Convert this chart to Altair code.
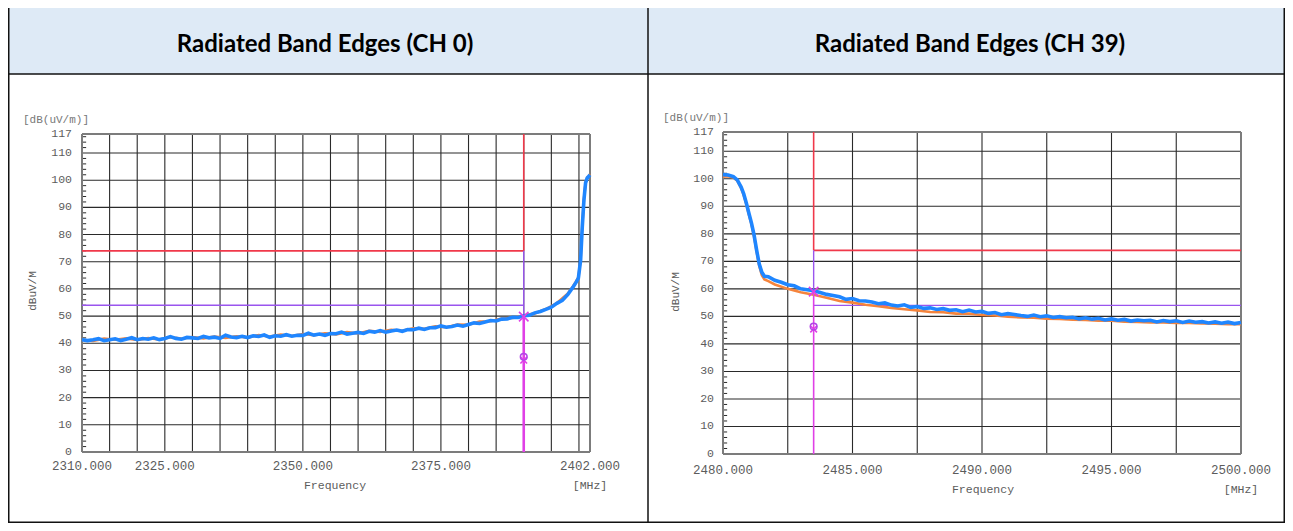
import altair as alt
import pandas as pd

# ---------------- data ----------------
# CH 0 (lower band edge)
ch0_title = "Radiated Band Edges (CH 0)"
ch0_blue_freq = list(range(2310, 2400)) + [2399.5, 2399.9, 2400.3, 2400.6, 2400.9, 2401.2, 2401.5, 2401.8, 2402.0]
ch0_blue = [
    41.3, 41.0, 41.3, 41.7, 40.95, 41.3, 41.65, 41.0, 41.5, 42.05,
    41.3, 41.75, 41.5, 42.0, 41.35, 41.8, 42.45, 41.8, 41.5, 42.15,
    42.0, 41.75, 42.5, 42.0, 42.25, 41.8, 42.95, 42.3, 42.1, 42.55,
    42.1, 42.75, 42.5, 43.05, 42.2, 42.75, 42.6, 43.15, 42.6, 42.95,
    42.9, 43.7, 43.0, 43.4, 42.95, 43.6, 43.5, 44.1, 43.4, 43.7,
    44.0, 43.6, 44.4, 44.1, 44.7, 44.1, 44.55, 44.9, 44.4, 45.05,
    45.0, 45.55, 45.1, 45.7, 45.75, 46.4, 45.9, 46.2, 46.7, 46.3,
    46.9, 47.5, 47.3, 47.8, 48.4, 48.2, 48.9, 48.95, 49.6, 49.5,
    50.1, 50.3, 51.2, 51.7, 52.5, 53.3, 54.7, 55.8, 58.0, 60.9,
    62.5, 64.0, 70.6, 82.8, 92.7, 99.0, 100.8, 101.5, 102.0,
]
ch0_orange_freq = list(range(2310, 2400, 2)) + [2399.0, 2399.5, 2399.9, 2400.3, 2400.6, 2400.9, 2401.2, 2401.5, 2401.8, 2402.0]
ch0_orange = [
    41.2, 40.9, 41.7, 41.3, 41.8, 41.2, 41.9, 41.4, 42.2, 41.7,
    42.3, 41.8, 42.5, 42.0, 42.6, 42.1, 43.0, 42.5, 43.2, 42.7,
    43.4, 43.0, 43.7, 43.3, 44.1, 43.6, 44.6, 44.2, 45.0, 44.6,
    45.5, 45.3, 46.2, 45.9, 46.9, 46.8, 48.0, 48.1, 49.1, 49.3,
    50.2, 51.0, 52.6, 54.8, 58.3,
    61.2, 62.8, 64.3, 71.0, 83.0, 93.0, 99.2, 101.0, 101.6, 102.2,
]
ch0_xdomain = [2310, 2402]
ch0_xgrid = [2315, 2320, 2325, 2330, 2335, 2340, 2345, 2350, 2355, 2360,
             2365, 2370, 2375, 2380, 2385, 2390, 2395, 2400]
ch0_xlabels = [2310, 2325, 2350, 2375, 2402]
ch0_edge = 2390
ch0_marker_pk = 49.8
ch0_marker_circle = 35.0
ch0_marker_cross = 33.8

# CH 39 (upper band edge)
ch39_title = "Radiated Band Edges (CH 39)"
ch39_blue_freq = [2480.0, 2480.2, 2480.4, 2480.55, 2480.7, 2480.8, 2480.9, 2481.0,
                  2481.1, 2481.2, 2481.3, 2481.4, 2481.5, 2481.6] + \
                 [2481.75 + 0.25 * i for i in range(74)]
ch39_blue = [
    101.5, 101.4, 100.8, 99.6, 97.0, 94.5, 91.2, 87.5, 83.9, 79.5, 74.0, 69.0, 66.0, 64.6,
    64.4, 63.1, 62.4, 61.5, 61.1, 60.0, 59.7, 59.3, 58.7, 58.0,
    57.6, 57.1, 56.2, 56.5, 55.7, 55.6, 55.2, 54.6, 54.9, 54.1,
    53.8, 54.2, 53.3, 53.6, 52.9, 53.1, 52.5, 52.8, 52.2, 52.4,
    51.7, 52.3, 51.6, 51.8, 51.1, 51.4, 50.6, 51.0, 50.7, 50.3,
    50.0, 50.5, 49.9, 50.2, 49.6, 49.9, 49.5, 49.7, 49.1, 49.5,
    49.0, 49.3, 48.7, 49.1, 48.6, 48.9, 48.3, 48.7, 48.4, 48.6,
    48.0, 48.5, 48.1, 48.4, 47.8, 48.3, 47.9, 48.1, 47.6, 48.0,
    47.5, 47.9, 47.4, 47.8,
]
ch39_orange_freq = [2480.0, 2480.2, 2480.4, 2480.55, 2480.7, 2480.8, 2480.9, 2481.0,
                    2481.1, 2481.2, 2481.3, 2481.4, 2481.5, 2481.6, 2481.75] + \
                   [2482.0 + 0.5 * i for i in range(37)]
ch39_orange = [
    100.8, 100.9, 100.5, 99.3, 96.6, 94.1, 90.8, 87.0, 83.4, 79.0, 73.5, 68.3, 65.0, 63.4, 62.8,
    61.6, 60.0, 58.8, 57.9, 56.8, 55.6, 55.0, 54.2, 53.7, 53.1,
    52.6, 52.2, 51.6, 51.5, 51.0, 51.0, 50.5, 50.3, 49.9, 49.6,
    49.5, 49.2, 49.1, 48.8, 48.7, 48.4, 48.4, 48.1, 48.0, 47.8,
    47.8, 47.6, 47.6, 47.4, 47.3, 47.2, 47.2,
]
ch39_xdomain = [2480, 2500]
ch39_xgrid = [2482.5, 2485, 2487.5, 2490, 2492.5, 2495, 2497.5]
ch39_xlabels = [2480, 2485, 2490, 2495, 2500]
ch39_edge = 2483.5
ch39_marker_pk = 59.0
ch39_marker_circle = 46.3
ch39_marker_cross = 45.4

# shared
limit_peak = 74
limit_avg = 54
y_top = 117
y_grid = [10, 20, 30, 40, 50, 60, 70, 80, 90, 100, 110]
y_labels = [0, 10, 20, 30, 40, 50, 60, 70, 80, 90, 100, 110, 117]
y_minor = [v for v in range(2, 117, 2) if v % 10 != 0]

# ---------------- styles ----------------
LABEL_FONT = "Liberation Mono"
LABEL_COLOR = "#5c5c5c"
GRID = "#2a2a2a"
BORDER = "#7c7c7c"
RED = "#f0384a"
PURPLE = "#9a55ee"
MAGENTA = "#e040e6"
BLUE = "#1f86ff"
ORANGE = "#f5843c"
W, H = 1277, 515


def panel(bf, bv, of, ov, xdom, xgrid, xlabels, edge, mk_pk, mk_circ, mk_cross,
          xrng, yrng, tick_len, mag_w, xlab_dy, ylab_dx, ytitle_dx, ytitle_dy,
          xtitle_dx, xtitle_dy, unit_dx, unit_dy):
    xs = alt.Scale(domain=xdom, range=xrng, nice=False, zero=False)
    ys = alt.Scale(domain=[0, y_top], range=yrng, nice=False, zero=False)
    x0, x1 = xdom

    def X(f):
        return alt.X(f, scale=xs, axis=None)

    def Y(f):
        return alt.Y(f, scale=ys, axis=None)

    vgrid = alt.Chart(pd.DataFrame({"x": xgrid, "y0": 0, "y1": y_top})).mark_rule(
        color=GRID, strokeWidth=1.1
    ).encode(x=X("x:Q"), y=Y("y0:Q"), y2="y1:Q")
    hgrid = alt.Chart(pd.DataFrame({"y": y_grid, "x0": x0, "x1": x1})).mark_rule(
        color=GRID, strokeWidth=1.1
    ).encode(y=Y("y:Q"), x=X("x0:Q"), x2="x1:Q")
    minor = alt.Chart(pd.DataFrame({"y": y_minor, "x0": x0, "x1": x0 + tick_len})).mark_rule(
        color=GRID, strokeWidth=1
    ).encode(y=Y("y:Q"), x=X("x0:Q"), x2="x1:Q")
    border = alt.Chart(pd.DataFrame({
        "x": [x0, x1, x0, x0], "x2": [x0, x1, x1, x1],
        "y": [0, 0, 0, y_top], "y2": [y_top, y_top, 0, y_top],
    })).mark_rule(color=BORDER, strokeWidth=2).encode(
        x=X("x:Q"), x2="x2:Q", y=Y("y:Q"), y2="y2:Q")

    if edge < (x0 + x1) / 2:
        hx0, hx1 = edge, x1
    else:
        hx0, hx1 = x0, edge
    limits = alt.Chart(pd.DataFrame({
        "x": [hx0, hx0, edge, edge],
        "x2": [hx1, hx1, edge, edge],
        "y": [limit_peak, limit_avg, limit_peak, mk_pk],
        "y2": [limit_peak, limit_avg, y_top, limit_peak],
        "c": [RED, PURPLE, RED, PURPLE],
        "w": [1.6, 1.4, 1.6, 1.4],
    })).mark_rule().encode(
        x=X("x:Q"), x2="x2:Q", y=Y("y:Q"), y2="y2:Q",
        color=alt.Color("c:N", scale=None),
        strokeWidth=alt.StrokeWidth("w:Q", scale=None),
    )
    orange = alt.Chart(pd.DataFrame({"f": of, "v": ov})).mark_line(
        color=ORANGE, strokeWidth=2.6
    ).encode(x=X("f:Q"), y=Y("v:Q"))
    blue = alt.Chart(pd.DataFrame({"f": bf, "v": bv})).mark_line(
        color=BLUE, strokeWidth=3.6
    ).encode(x=X("f:Q"), y=Y("v:Q"))
    mag = alt.Chart(pd.DataFrame({"x": [edge], "y": [0], "y2": [mk_pk]})).mark_rule(
        color=MAGENTA, strokeWidth=mag_w
    ).encode(x=X("x:Q"), y=Y("y:Q"), y2="y2:Q")
    xshape = "M-1,-1L1,1M-1,1L1,-1"
    crosses = alt.Chart(pd.DataFrame({"x": [edge, edge], "y": [mk_pk, mk_cross],
                                      "s": [90, 45]})).mark_point(
        shape=xshape, filled=False, color=MAGENTA, strokeWidth=1.6, opacity=1
    ).encode(x=X("x:Q"), y=Y("y:Q"), size=alt.Size("s:Q", scale=None))
    circle = alt.Chart(pd.DataFrame({"x": [edge], "y": [mk_circ]})).mark_point(
        shape="circle", filled=False, color="#b244e8", strokeWidth=1.5, size=45, opacity=1
    ).encode(x=X("x:Q"), y=Y("y:Q"))

    # axis tick labels and titles
    ylab = alt.Chart(pd.DataFrame({"y": y_labels, "x": x0})).mark_text(
        align="right", baseline="middle", dx=ylab_dx,
        font=LABEL_FONT, fontSize=11.5, color=LABEL_COLOR
    ).encode(x=X("x:Q"), y=Y("y:Q"), text=alt.Text("y:Q", format="d"))
    xlab = alt.Chart(pd.DataFrame({"x": xlabels, "y": 0})).mark_text(
        align="center", baseline="middle", dy=xlab_dy,
        font=LABEL_FONT, fontSize=12.5, color=LABEL_COLOR
    ).encode(x=X("x:Q"), y=Y("y:Q"), text=alt.Text("x:Q", format=".3f"))
    ytitle = alt.Chart(pd.DataFrame({"x": [x0], "y": [0], "t": ["dBuV/M"]})).mark_text(
        align="center", baseline="middle", angle=270, dx=ytitle_dx, dy=ytitle_dy,
        font=LABEL_FONT, fontSize=11, color=LABEL_COLOR
    ).encode(x=X("x:Q"), y=Y("y:Q"), text="t:N")
    xtitle = alt.Chart(pd.DataFrame({"x": [(x0 + x1) / 2], "y": [0], "t": ["Frequency"]})).mark_text(
        align="center", baseline="middle", dx=xtitle_dx, dy=xtitle_dy,
        font=LABEL_FONT, fontSize=11.5, color=LABEL_COLOR
    ).encode(x=X("x:Q"), y=Y("y:Q"), text="t:N")
    unit_y = alt.Chart(pd.DataFrame({"x": [x0], "y": [y_top], "t": ["[dB(uV/m)]"]})).mark_text(
        align="left", baseline="middle", dx=unit_dx, dy=unit_dy,
        font=LABEL_FONT, fontSize=11, color="#777777"
    ).encode(x=X("x:Q"), y=Y("y:Q"), text="t:N")
    unit_x = alt.Chart(pd.DataFrame({"x": [x1], "y": [0], "t": ["[MHz]"]})).mark_text(
        align="center", baseline="middle", dy=xtitle_dy,
        font=LABEL_FONT, fontSize=11.5, color=LABEL_COLOR
    ).encode(x=X("x:Q"), y=Y("y:Q"), text="t:N")

    return alt.layer(vgrid, hgrid, minor, border, limits, orange, blue, mag,
                     crosses, circle, ylab, xlab, ytitle, xtitle, unit_y, unit_x)


left = panel(ch0_blue_freq, ch0_blue, ch0_orange_freq, ch0_orange, ch0_xdomain,
             ch0_xgrid, ch0_xlabels, ch0_edge, ch0_marker_pk, ch0_marker_circle,
             ch0_marker_cross,
             xrng=[74, 582], yrng=[444, 126], tick_len=0.75, mag_w=2.6,
             xlab_dy=14, ylab_dx=-10, ytitle_dx=161, ytitle_dy=-49,
             xtitle_dx=-1, xtitle_dy=34, unit_dx=-59, unit_dy=-14)
right = panel(ch39_blue_freq, ch39_blue, ch39_orange_freq, ch39_orange, ch39_xdomain,
              ch39_xgrid, ch39_xlabels, ch39_edge, ch39_marker_pk, ch39_marker_circle,
              ch39_marker_cross,
              xrng=[715, 1233], yrng=[446, 124], tick_len=0.16, mag_w=1.6,
              xlab_dy=16, ylab_dx=-9, ytitle_dx=162, ytitle_dy=-47,
              xtitle_dx=1, xtitle_dy=36, unit_dx=-60, unit_dy=-14)

# ---------------- table frame (decoration) ----------------
one = pd.DataFrame({"a": [0]})
header_bg = alt.Chart(one).mark_rect(color="#deeaf6").encode(
    x=alt.value(0), x2=alt.value(W), y=alt.value(0), y2=alt.value(66))
frame_specs = [
    (0.75, 0.75, 0, H), (W - 0.75, W - 0.75, 0, H), (640, 640, 0, H),
    (0, W, 66, 66), (0, W, H - 0.75, H - 0.75),
]
frame = [
    alt.Chart(one).mark_rule(color="#111111", strokeWidth=1.5).encode(
        x=alt.value(a), x2=alt.value(b), y=alt.value(c), y2=alt.value(d))
    for a, b, c, d in frame_specs
]
titles = [
    alt.Chart(one).mark_text(font="Lato", fontSize=24, fontWeight="bold",
                             color="#000000", baseline="middle", align="center").encode(
        x=alt.value(xp), y=alt.value(37), text=alt.value(t))
    for xp, t in [(317, ch0_title), (962, ch39_title)]
]

chart = alt.layer(header_bg, *frame, *titles, left, right).resolve_scale(
    x="independent", y="independent"
).properties(
    width=W, height=H, padding=0, autosize=alt.AutoSizeParams(type="none"),
    background="white",
).configure_view(stroke=None)

chart.save("out.html", embed_options={"renderer": "svg", "actions": False})
